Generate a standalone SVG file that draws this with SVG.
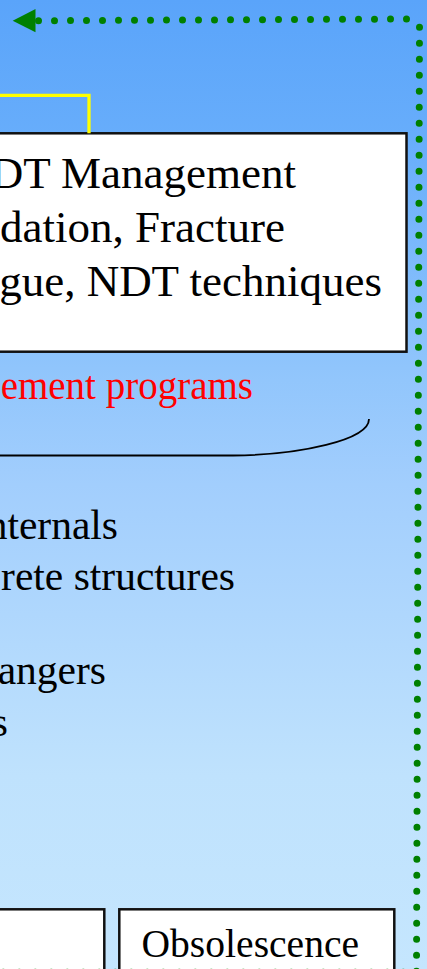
<svg xmlns="http://www.w3.org/2000/svg" width="427" height="969" viewBox="0 0 427 969">
  <defs>
    <linearGradient id="bg" x1="0" y1="0" x2="0" y2="969" gradientUnits="userSpaceOnUse">
      <stop offset="0" stop-color="#5aa4fa"/>
      <stop offset="0.14" stop-color="#67adfb"/>
      <stop offset="0.38" stop-color="#90c5fc"/>
      <stop offset="0.5" stop-color="#a2cefd"/>
      <stop offset="0.8" stop-color="#bfe2fd"/>
      <stop offset="1" stop-color="#c5e6fe"/>
    </linearGradient>
    <style>
      .box { fill: #ffffff; stroke: #111111; stroke-width: 2.5; }
      .txt { font-family: "Liberation Serif", "Times New Roman", serif; fill: #000000; }
      .red { font-family: "Liberation Serif", "Times New Roman", serif; fill: #ff0000; }
      .dots { fill: none; stroke: #008000; stroke-width: 7; stroke-linecap: round; stroke-dasharray: 0 16; }
    </style>
  </defs>

  <rect x="0" y="0" width="427" height="969" fill="url(#bg)"/>

  <g id="node-ndt-box">
    <rect class="box" x="-20" y="133.3" width="426.5" height="218.4"/>
    <text class="txt" font-size="45" text-anchor="end" x="296" y="188.3">DT Management</text>
    <text class="txt" font-size="45" text-anchor="end" x="285" y="241.7">dation, Fracture</text>
    <text class="txt" font-size="45" text-anchor="end" x="382" y="295.7">gue, NDT techniques</text>
  </g>

  <g id="node-programs-label">
    <text class="red" font-size="39" text-anchor="end" x="253" y="399.3">ement programs</text>
  </g>

  <g id="node-components-list">
    <text class="txt" font-size="41.5" text-anchor="end" x="118" y="538.5">nternals</text>
    <text class="txt" font-size="41.5" text-anchor="end" x="235" y="590">rete structures</text>
    <text class="txt" font-size="41.5" text-anchor="end" x="106" y="684">angers</text>
    <text class="txt" font-size="41.5" text-anchor="end" x="8" y="736">s</text>
  </g>

  <g id="node-left-box">
    <rect class="box" x="-20" y="909.3" width="124.3" height="80"/>
  </g>

  <g id="node-obsolescence">
    <rect class="box" x="119.3" y="909.3" width="275" height="80"/>
    <text class="txt" font-size="39.6" x="141.5" y="956.7">Obsolescence</text>
  </g>

  <g id="connectors">
    <polyline points="0,95.3 89,95.3 89,133.3" fill="none" stroke="#ffff00" stroke-width="3.3"/>
    <path d="M369,419 C369,440 300,455 233,455.5 L0,455.5" fill="none" stroke="#000000" stroke-width="1.8"/>
    <line class="dots" x1="419.5" y1="27.3" x2="416.5" y2="971.3"/>
    <line class="dots" x1="406.5" y1="19" x2="38.5" y2="20.7"/>
    <polygon points="12.7,20.7 35.5,9 35.5,32.3" fill="#008000"/>
    <line class="dots" x1="3.3" y1="972.3" x2="419.3" y2="972.3"/>
  </g>
</svg>
